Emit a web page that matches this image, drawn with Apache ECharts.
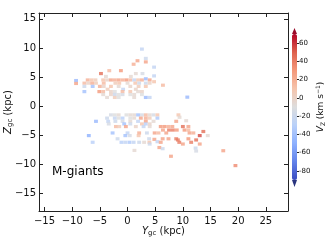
<!DOCTYPE html>
<html><head><meta charset="utf-8">
<script src="https://cdn.jsdelivr.net/npm/echarts@6/dist/echarts.min.js"></script>
<style>html,body{margin:0;padding:0;background:#fff}#c{width:332px;height:249px}</style>
</head><body><div id="c"></div>
<script>
// Tick labels
const xTicks = [-15, -10, -5, 0, 5, 10, 15, 20, 25];
const yTicks = [-15, -10, -5, 0, 5, 10, 15];
const cbTicks = [-80, -60, -40, -20, 0, 20, 40, 60];
// Upper structure cells: [Y_gc, Z_gc, V_Z]
const upperCells = [
 [2.6,9.8,-25],[3.3,8.2,-20],[1.8,7.8,25],[3.3,7.6,25],[1.1,7.2,20],[4.8,6.7,-25],
 [-3.3,6.1,15],[-1.2,6.1,30],[-4.8,5.6,45],[1.5,5.6,-5],[2.7,5.6,-15],[4.8,5.2,-25],
 [-3.9,5.1,-5],[0.6,5.1,-5],
 [-9.3,4.4,-45],[-7.2,4.5,20],[-6.5,4.5,10],[-5.8,4.5,5],[-4.4,4.5,10],[-3.7,4.5,0],
 [-3.0,4.5,25],[-2.3,4.5,20],[-1.6,4.5,25],[-0.9,4.5,20],[-0.2,4.5,30],[0.5,4.5,15],
 [1.2,4.5,-25],[1.9,4.5,10],[2.6,4.5,20],[3.3,4.7,-45],[4.0,4.5,25],[4.8,4.2,10],
 [-9.3,3.9,25],[-7.8,3.95,15],[-7.1,3.95,0],[-6.4,3.95,20],[-5.7,3.95,5],[-4.3,3.95,15],
 [-2.2,3.95,5],[-1.5,3.95,10],[0.0,3.95,-5],[1.4,3.95,10],[2.1,3.95,-20],[3.3,3.95,-20],[4.0,3.95,0],
 [-7.8,3.4,-20],[-6.3,3.4,-40],[-5.0,3.4,20],[-4.3,3.4,0],[-3.0,3.4,10],[-1.6,3.4,-5],
 [0.5,3.4,0],[2.0,3.4,5],[3.3,3.4,10],[6.4,3.6,15],
 [-0.8,2.9,-25],[-3.6,2.9,5],[1.5,2.9,0],
 [-7.8,2.5,-40],[-5.1,2.5,30],[-4.4,2.5,15],[-3.0,2.5,0],[-2.3,2.5,-10],[-0.9,2.5,15],
 [0.5,2.5,10],[1.9,2.5,-5],[2.6,2.5,0],
 [-4.4,2.0,-5],[-3.0,2.0,0],[-2.3,2.0,-20],[-1.6,2.0,-10],[-0.9,2.0,-15],[0.5,2.0,-10],
 [1.2,2.0,-5],[2.6,2.0,-10],
 [-3.7,1.5,-5],[-2.3,1.5,5],[-1.6,1.5,-10],[1.2,1.5,-5],[3.3,1.5,-45],[4.0,1.5,-25],[10.8,1.55,-45]
];
// Lower structure cells: [Y_gc, Z_gc, V_Z]
const lowerCells = [
 [-3.0,-1.5,-15],[-2.3,-1.5,-10],[-1.6,-1.5,-5],[-0.2,-1.5,-10],[0.5,-1.5,-5],[1.2,-1.5,-5],
 [1.9,-1.5,-40],[2.6,-1.5,-15],[3.3,-1.5,15],[4.0,-1.5,-5],[4.7,-1.5,-15],[5.4,-1.5,10],[9.2,-1.5,10],
 [-3.7,-2.05,-20],[-2.3,-2.05,-25],[-1.6,-2.05,-10],[-0.9,-2.05,-30],[0.5,-2.05,-10],[1.2,-2.05,-5],
 [2.4,-2.05,25],[3.3,-2.05,20],[4.0,-2.05,5],[5.4,-2.05,-35],[9.4,-1.9,-5],
 [-5.7,-2.6,-45],[-3.5,-2.6,-25],[-2.2,-2.6,-20],[-0.9,-2.6,-15],[0.5,-2.6,-5],[1.9,-2.6,-25],
 [3.3,-2.6,25],[4.7,-2.6,-5],[8.8,-2.6,25],[10.6,-2.5,-5],
 [-3.4,-3.05,-15],[-0.6,-3.05,-40],[0.5,-3.05,-20],[2.6,-3.05,10],[3.3,-3.05,-30],[4.0,-3.05,0],
 [-2.1,-3.5,15],[-1.5,-3.5,5],[-0.3,-3.5,25],[1.5,-3.5,0],[2.9,-3.5,-25],[4.0,-3.5,-5],
 [6.0,-3.5,30],[6.7,-3.5,30],[7.4,-3.5,20],[8.1,-3.5,25],[10.0,-3.5,45],[11.0,-3.5,25],
 [6.4,-4.1,25],[7.5,-4.1,40],[8.2,-4.1,40],[8.9,-4.1,30],[10.3,-4.1,30],[11.0,-4.1,15],[13.7,-4.35,45],
 [-2.7,-4.6,-40],[0.0,-4.6,-25],[2.1,-4.6,20],[3.5,-4.6,-20],[4.9,-4.6,25],[5.6,-4.6,15],
 [7.0,-4.6,25],[11.2,-4.6,25],[11.9,-4.6,20],
 [-7.0,-5.05,-50],[-0.4,-5.05,-40],[0.4,-5.05,-15],[2.0,-5.05,10],[13.05,-5.05,55],[14.5,-5.05,-5],
 [-1.8,-5.6,-20],[3.9,-5.6,-20],[4.85,-5.7,25],[6.35,-5.6,25],[7.4,-5.6,25],[8.8,-5.6,40],
 [11.0,-5.6,30],[9.1,-5.8,40],[12.4,-5.8,45],
 [-6.3,-6.2,-30],[-1.1,-6.2,-30],[-0.4,-6.2,-25],[0.35,-6.2,-35],[1.1,-6.2,-25],[2.1,-6.2,-20],
 [3.0,-6.2,-5],[3.95,-6.2,10],[5.4,-6.1,-25],[6.0,-6.2,25],[9.35,-6.2,40],[11.5,-6.2,40],
 [10.0,-6.5,25],[13.05,-6.5,25],[4.0,-6.5,-20],
 [5.75,-7.1,25],[6.35,-7.3,-20],[12.3,-7.2,-20],[12.4,-7.7,-15],[1.25,-7.6,-5],[7.85,-8.6,25],
 [17.3,-7.65,25],[19.5,-10.2,35]
];
const labelText = 'M-giants';

const DX = 0.7, DY = 0.55;
const minus = v => (v < 0 ? '\u2212' + Math.abs(v) : String(v));
const coolwarm = ['#3b4cc0','#6282ea','#8db0fe','#b9d0f9','#dddddd','#f5c4ac','#f4987a','#de614d','#b40426'];
const F = 'DejaVu Sans';
const chart = echarts.init(document.getElementById('c'), null, {renderer:'canvas'});
const tickStyle = {show:true, inside:true, length:4, lineStyle:{color:'#222', width:1}};
const lineStyle = {show:true, onZero:false, lineStyle:{color:'#222', width:1}};
const cells = upperCells.concat(lowerCells);

chart.setOption({
  animation:false,
  textStyle:{fontFamily:F},
  grid:[
    {left:39, right:44, top:13, bottom:38, outerBoundsMode:'none', containLabel:false},
    {left:292, top:34, width:5, height:146, outerBoundsMode:'none', containLabel:false}
  ],
  xAxis:[
    {type:'value', gridIndex:0, min:-16, max:29, position:'bottom', axisLine:lineStyle,
     axisTick:Object.assign({customValues:xTicks}, tickStyle),
     axisLabel:{customValues:xTicks, formatter:minus, fontSize:10, color:'#111', margin:5, fontFamily:F},
     splitLine:{show:false},
     name:'{it|Y}{sub|gc} (kpc)', nameLocation:'middle', nameGap:14, nameMoveOverlap:false,
     nameTextStyle:{fontSize:10, color:'#111', fontFamily:F, lineHeight:12,
       rich:{it:{fontStyle:'italic', fontSize:10, fontFamily:F, lineHeight:12},
             sub:{fontSize:7, fontFamily:F, lineHeight:7, verticalAlign:'bottom'}}}},
    {type:'value', gridIndex:0, min:-16, max:29, position:'top', axisLine:lineStyle,
     axisTick:Object.assign({customValues:xTicks}, tickStyle), axisLabel:{show:false}, splitLine:{show:false}},
    {type:'value', gridIndex:1, min:0, max:1, show:false}
  ],
  yAxis:[
    {type:'value', gridIndex:0, min:-18, max:16, position:'left', axisLine:lineStyle,
     axisTick:Object.assign({customValues:yTicks}, tickStyle),
     axisLabel:{customValues:yTicks, formatter:minus, fontSize:10, color:'#111', margin:3, fontFamily:F},
     splitLine:{show:false},
     name:'{it|Z}{sub|gc} (kpc)', nameLocation:'middle', nameGap:25, nameRotate:90, nameMoveOverlap:false,
     nameTextStyle:{fontSize:10, color:'#111', fontFamily:F, lineHeight:12,
       rich:{it:{fontStyle:'italic', fontSize:10, fontFamily:F, lineHeight:12},
             sub:{fontSize:7, fontFamily:F, lineHeight:7, verticalAlign:'bottom'}}}},
    {type:'value', gridIndex:0, min:-18, max:16, position:'right', axisLine:lineStyle,
     axisTick:Object.assign({customValues:yTicks}, tickStyle), axisLabel:{show:false}, splitLine:{show:false}},
    {type:'value', gridIndex:1, min:-90, max:70, position:'right',
     axisLine:{show:false, onZero:false},
     axisTick:{show:true, customValues:cbTicks, length:2, lineStyle:{color:'#222'}},
     axisLabel:{customValues:cbTicks, fontSize:7, color:'#111', margin:2, fontFamily:F},
     splitLine:{show:false},
     name:'{it|V}{sub|Z} (km s{sup|\u22121})', nameLocation:'middle', nameGap:18, nameRotate:90,
     nameTextStyle:{fontSize:9, color:'#111', fontFamily:F, lineHeight:11,
       rich:{it:{fontStyle:'italic', fontSize:9, fontFamily:F, lineHeight:11},
             sub:{fontSize:6, fontFamily:F, lineHeight:6, verticalAlign:'bottom'},
             sup:{fontSize:6, fontFamily:F, lineHeight:6, verticalAlign:'top'}}}}
  ],
  visualMap:{
    type:'continuous', min:-90, max:70, seriesIndex:0, dimension:2,
    inRange:{color:coolwarm}, left:292, top:34, itemWidth:5, itemHeight:146,
    calculable:false, padding:0, hoverLink:false, orient:'vertical'
  },
  graphic:[
    {type:'polygon', shape:{points:[[292,34],[297,34],[294.5,28]]}, style:{fill:'#9a0a28'}},
    {type:'polygon', shape:{points:[[292,180],[297,180],[294.5,187]]}, style:{fill:'#2a357f'}},
    {type:'text', left:52, top:166, style:{text:labelText, font:'12px "DejaVu Sans"', fill:'#000'}}
  ],
  series:[
    {type:'custom', xAxisIndex:0, yAxisIndex:0, data:cells, clip:true,
     renderItem:function(params, api){
       const p = api.coord([api.value(0) - DX/2, api.value(1) + DY/2]);
       const s = api.size([DX, DY]);
       return {type:'rect', shape:{x:p[0], y:p[1], width:s[0], height:s[1]},
               style:{fill:api.visual('color'), opacity:0.8}};
     }},
    {type:'line', xAxisIndex:2, yAxisIndex:2, data:[]}
  ]
});
</script></body></html>
